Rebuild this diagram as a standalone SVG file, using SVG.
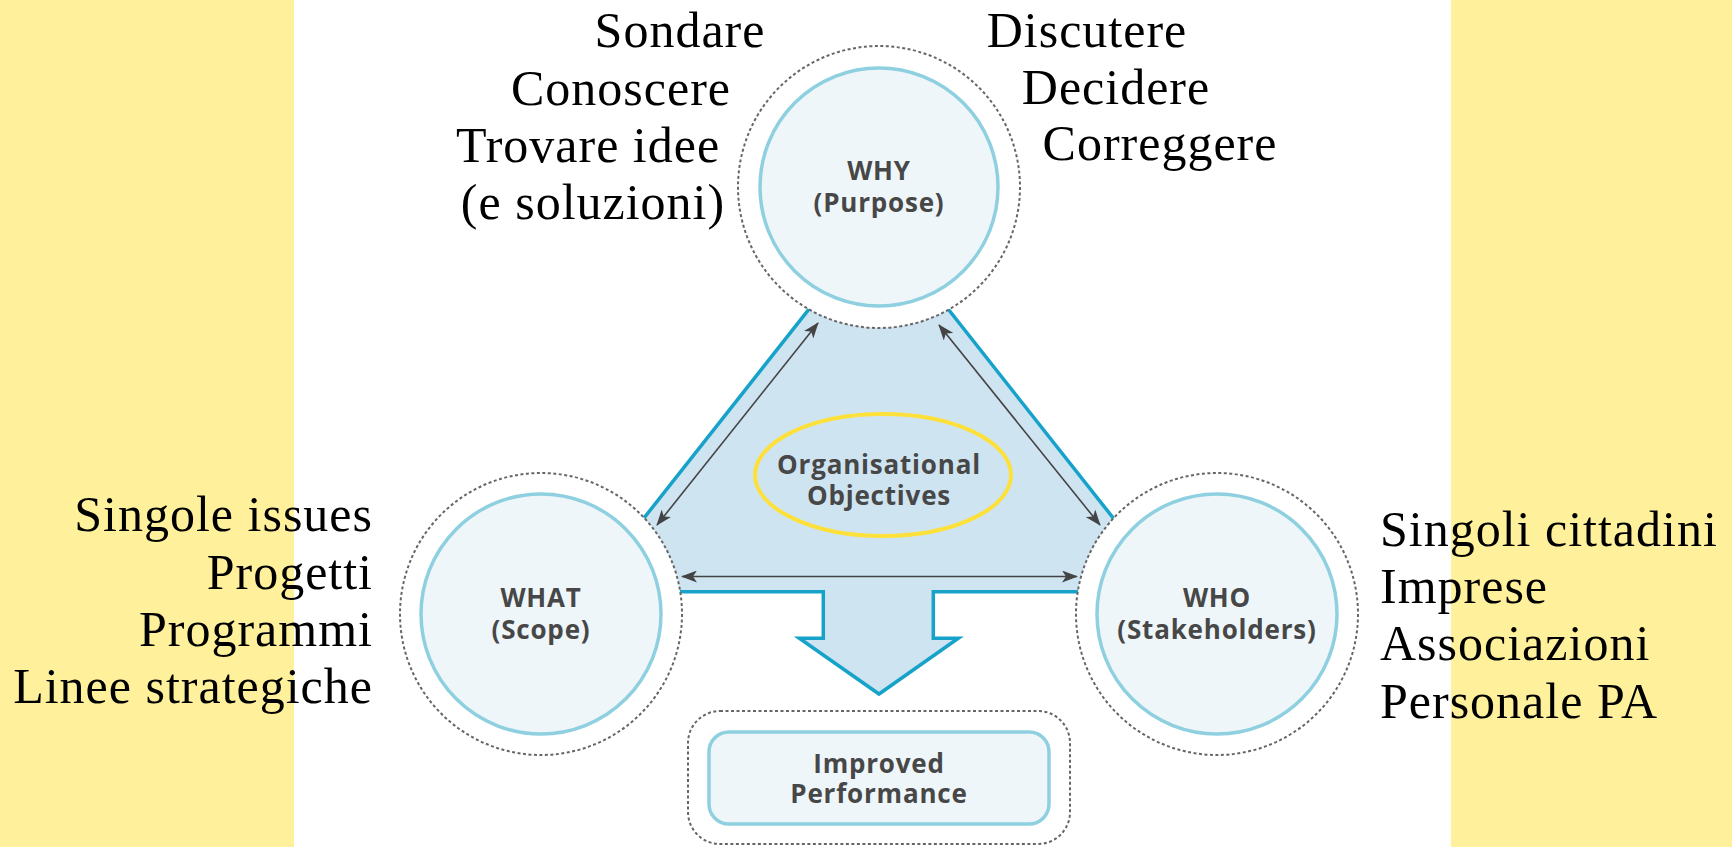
<svg xmlns="http://www.w3.org/2000/svg" width="1732" height="847" viewBox="0 0 1732 847">
  <style>
    .band { fill: #FFF19C; }
    .halo { fill: #ffffff; stroke: #666666; stroke-width: 2; stroke-dasharray: 3 2.5; }
    .core { fill: #EEF6FA; stroke: #8FD0E0; stroke-width: 3.5; }
    .lbl { font-family: "Open Sans", "DejaVu Sans", sans-serif; font-weight: 700; font-size: 26px; fill: #474747; text-anchor: middle; letter-spacing: 0.8px; }
    .note { font-family: "Liberation Serif", "Times New Roman", serif; font-size: 50px; fill: #000000; letter-spacing: 1px; }
    .link { stroke: #444444; stroke-width: 1.6; fill: none; marker-start: url(#tip); marker-end: url(#tip); }
  </style>
  <defs>
    <marker id="tip" viewBox="0 0 16 12" refX="15" refY="6" markerWidth="16" markerHeight="12" markerUnits="userSpaceOnUse" orient="auto-start-reverse">
      <path d="M0,0 L16,6 L0,12 L4,6 z" fill="#444444"/>
    </marker>
  </defs>

  <!-- background -->
  <rect x="0" y="0" width="1732" height="847" fill="#ffffff"/>
  <rect class="band" x="0" y="0" width="294" height="847"/>
  <rect class="band" x="1451" y="0" width="281" height="847"/>

  <!-- central triangle with downward arrow -->
  <g id="objectives-area">
    <polygon points="585.8,591.7 878.6,221 1171.4,591.7 933.3,591.7 933.3,638.3 958.3,638.3 879,694 799.3,638.3 823.3,638.3 823.3,591.7"
             fill="#CFE4F1" stroke="#16A2C9" stroke-width="3.5" stroke-linejoin="miter"/>
  </g>

  <!-- WHY -->
  <g id="why">
    <circle class="halo" cx="879" cy="187" r="141"/>
    <circle class="core" cx="879" cy="187" r="119"/>
    <text class="lbl"><tspan x="879" y="180">WHY</tspan><tspan x="879" y="212">(Purpose)</tspan></text>
  </g>

  <!-- WHAT -->
  <g id="what">
    <circle class="halo" cx="541" cy="614" r="141"/>
    <circle class="core" cx="541" cy="614" r="120"/>
    <text class="lbl"><tspan x="541" y="607">WHAT</tspan><tspan x="541" y="639">(Scope)</tspan></text>
  </g>

  <!-- WHO -->
  <g id="who">
    <circle class="halo" cx="1217" cy="614" r="141"/>
    <circle class="core" cx="1217" cy="614" r="120"/>
    <text class="lbl"><tspan x="1217" y="607">WHO</tspan><tspan x="1217" y="639">(Stakeholders)</tspan></text>
  </g>

  <!-- Organisational Objectives -->
  <g id="objectives">
    <ellipse cx="883" cy="475" rx="128" ry="61" fill="none" stroke="#FDE13A" stroke-width="4"/>
    <text class="lbl"><tspan x="879" y="474">Organisational</tspan><tspan x="879" y="505">Objectives</tspan></text>
  </g>

  <!-- two-way links between the three circles -->
  <g id="connectors">
    <line class="link" x1="657" y1="525" x2="818" y2="323"/>
    <line class="link" x1="939" y1="325" x2="1100" y2="525"/>
    <line class="link" x1="682" y1="576.5" x2="1077" y2="576.5"/>
  </g>

  <!-- Improved Performance -->
  <g id="performance">
    <rect x="688" y="711" width="382" height="133" rx="32" fill="#ffffff" stroke="#666666" stroke-width="2" stroke-dasharray="3 2.5"/>
    <rect x="709" y="732" width="340" height="92" rx="20" fill="#EEF6FA" stroke="#8FD0E0" stroke-width="3.5"/>
    <text class="lbl"><tspan x="879" y="773">Improved</tspan><tspan x="879" y="803">Performance</tspan></text>
  </g>

  <!-- WHY notes -->
  <g id="why-notes" class="note" text-anchor="middle">
    <text x="680" y="47">Sondare</text>
    <text x="621" y="105">Conoscere</text>
    <text x="588" y="162">Trovare idee</text>
    <text x="593" y="219">(e soluzioni)</text>
    <text x="1087" y="47">Discutere</text>
    <text x="1116" y="104">Decidere</text>
    <text x="1160" y="160">Correggere</text>
  </g>

  <!-- WHAT notes -->
  <g id="what-notes" class="note" text-anchor="end">
    <text x="373" y="531">Singole issues</text>
    <text x="373" y="589">Progetti</text>
    <text x="373" y="646">Programmi</text>
    <text x="373" y="703">Linee strategiche</text>
  </g>

  <!-- WHO notes -->
  <g id="who-notes" class="note" text-anchor="start">
    <text x="1380" y="546">Singoli cittadini</text>
    <text x="1380" y="603">Imprese</text>
    <text x="1380" y="660">Associazioni</text>
    <text x="1380" y="718">Personale PA</text>
  </g>
</svg>
